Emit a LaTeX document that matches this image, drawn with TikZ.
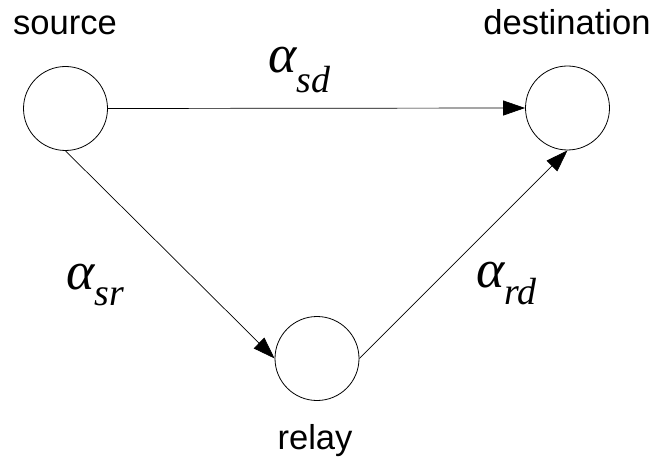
\documentclass[tikz,border=0pt]{standalone}
\usepackage{fontspec}
\setmainfont{Liberation Sans}
\newfontfamily\lserif{Liberation Serif}
\usetikzlibrary{arrows.meta}
\newcommand\chanlab[3]{{\lserif\itshape\fontsize{54}{54}\selectfont #1}\raisebox{-#3}{\lserif\itshape\fontsize{38}{38}\selectfont #2}}
\tikzset{
  station/.style={draw, circle, minimum size=84bp, inner sep=0pt, line width=0.8bp},
  stname/.style={anchor=base, inner sep=0pt, font=\fontsize{34.7}{34.7}\selectfont},
  link/.style={draw, line width=0.7bp, -{Triangle[length=22bp,width=15bp]}},
  chan/.style={anchor=base west, inner sep=0pt}
}
\begin{document}
\begin{tikzpicture}[x=1bp,y=-1bp]
\useasboundingbox (0,0) rectangle (664,458);
\node[station] (src) at (65.5,108.5) {};
\node[station] (dst) at (567.5,108) {};
\node[station] (rly) at (317,358.5) {};
\node[stname] (srct) at (65,35) {source};
\node[stname] (dstt) at (567,35) {destination};
\node[stname] (rlyt) at (315,449) {relay};
\draw[link] (src.east) -- (dst.west);
\draw[link] (src.south) -- (rly.west);
\draw[link] (rly.east) -- (dst.south);
\node[chan] (lsd) at (268,73) {\chanlab{α}{sd}{20bp}};
\node[chan] (lsr) at (66,290) {\chanlab{α}{sr}{16bp}};
\node[chan] (lrd) at (476,288) {\chanlab{α}{rd}{17bp}};
\end{tikzpicture}
\end{document}
